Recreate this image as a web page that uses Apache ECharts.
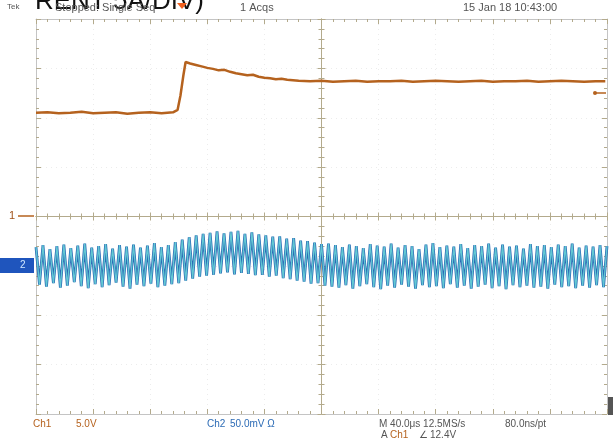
<!DOCTYPE html>
<html><head><meta charset="utf-8">
<script src="https://cdn.jsdelivr.net/npm/echarts@6/dist/echarts.min.js"></script>
<style>html,body{margin:0;padding:0;background:#fff}#c{width:613px;height:441px}</style>
</head><body><div id="c"></div>
<script>
// Ch1 (current probe) — time in divisions (-5..5), value in divisions
const ch1Time = [-5,-4.8,-4.6,-4.4,-4.2,-4.0,-3.8,-3.6,-3.4,-3.2,-3.0,-2.8,-2.6,-2.52,-2.47,-2.42,-2.38,-2.3,-2.2,-2.1,-2.0,-1.9,-1.8,-1.7,-1.6,-1.5,-1.4,-1.3,-1.2,-1.1,-1.0,-0.9,-0.8,-0.7,-0.6,-0.5,-0.4,-0.2,0,0.2,0.4,0.6,0.8,1.0,1.2,1.4,1.6,1.8,2.0,2.2,2.4,2.6,2.8,3.0,3.2,3.4,3.6,3.8,4.0,4.2,4.4,4.6,4.8,4.97];
const ch1Div  = [2.10,2.11,2.09,2.10,2.12,2.09,2.10,2.11,2.08,2.10,2.11,2.09,2.11,2.16,2.45,2.85,3.13,3.10,3.07,3.04,3.01,2.99,2.96,2.97,2.93,2.90,2.88,2.86,2.87,2.83,2.81,2.80,2.78,2.79,2.77,2.76,2.75,2.74,2.75,2.73,2.74,2.75,2.73,2.74,2.74,2.75,2.73,2.74,2.75,2.74,2.73,2.74,2.75,2.73,2.74,2.74,2.75,2.73,2.74,2.75,2.74,2.73,2.74,2.74];
// Ch2 (switching ripple) — evenly sampled, alternating peaks and troughs, in divisions
const ch2Div = [
-0.62,-1.38,-0.58,-1.42,-0.66,-1.35,-0.60,-1.44,-0.57,-1.40,-0.64,-1.33,-0.59,-1.41,-0.55,-1.45,-0.63,-1.37,-0.60,-1.43,
-0.56,-1.39,-0.65,-1.34,-0.58,-1.42,-0.61,-1.46,-0.57,-1.38,-0.63,-1.41,-0.59,-1.36,-0.54,-1.43,-0.62,-1.40,-0.58,-1.37,
-0.52,-1.35,-0.47,-1.30,-0.42,-1.26,-0.38,-1.22,-0.35,-1.20,
-0.33,-1.18,-0.30,-1.15,-0.34,-1.13,-0.31,-1.17,-0.29,-1.14,-0.35,-1.16,-0.32,-1.19,-0.36,-1.18,
-0.38,-1.22,-0.41,-1.20,-0.40,-1.25,-0.45,-1.27,-0.44,-1.30,-0.49,-1.32,-0.50,-1.36,-0.53,-1.35,-0.56,-1.40,-0.55,-1.42,
-0.58,-1.44,-0.62,-1.39,-0.57,-1.46,-0.60,-1.41,-0.64,-1.37,-0.56,-1.43,-0.59,-1.47,-0.61,-1.40,-0.55,-1.44,-0.63,-1.38,
-0.58,-1.42,-0.60,-1.46,-0.66,-1.39,-0.57,-1.43,-0.54,-1.41,-0.62,-1.45,-0.59,-1.37,-0.61,-1.44,-0.56,-1.40,-0.64,-1.46,
-0.58,-1.42,-0.60,-1.38,-0.55,-1.45,-0.63,-1.41,-0.57,-1.47,-0.61,-1.39,-0.59,-1.43,-0.65,-1.40,-0.56,-1.44,-0.60,-1.42,
-0.58,-1.46,-0.62,-1.38,-0.57,-1.43,-0.60,-1.41,-0.55,-1.45,-0.63,-1.40,-0.59,-1.44,-0.61,-1.39,-0.58,-1.43,-0.60];
const xRange = [-5, 5];   // horizontal divisions
const yRange = [-4, 4];   // vertical divisions
const topTexts = ['Tek', 'Stopped: Single Seq', '1 Acqs', '15 Jan 18 10:43:00'];
const bottomTexts = ['Ch1', '5.0V', 'Ch2', '50.0mV Ω', 'M 40.0μs 12.5MS/s', '80.0ns/pt', 'A', 'Ch1', '∠', '12.4V'];
const bigTitle = 'RENT 5A/DIV)';

const ch1Data = ch1Time.map((t, i) => [t, ch1Div[i]]);
const step = (xRange[1] - xRange[0]) / (ch2Div.length - 1);
const ch2Data = ch2Div.map((v, i) => [xRange[0] + i * step, v]);

const tan = '#b3aa8c', border = '#c4c4c4';
function xa(pos, opt) {
  return Object.assign({
    type: 'value', min: xRange[0], max: xRange[1], interval: 1, position: pos,
    axisLabel: { show: false }, splitLine: { show: false },
    axisLine: { onZero: false, lineStyle: { color: border } },
    axisTick: { show: true, inside: true, length: 5, lineStyle: { color: tan } },
    minorTick: { show: true, splitNumber: 5, length: 3, lineStyle: { color: tan } }
  }, opt);
}
function ya(pos, opt) {
  return Object.assign({
    type: 'value', min: yRange[0], max: yRange[1], interval: 1, position: pos,
    axisLabel: { show: false }, splitLine: { show: false },
    axisLine: { onZero: false, lineStyle: { color: border } },
    axisTick: { show: true, inside: true, length: 5, lineStyle: { color: tan } },
    minorTick: { show: true, splitNumber: 5, length: 3, lineStyle: { color: tan } }
  }, opt);
}
const dotted = { show: true, lineStyle: { color: '#ececec', type: [1, 4] } };
const chart = echarts.init(document.getElementById('c'), null, { renderer: 'canvas' });
const font = 'Liberation Sans, Arial, sans-serif';
function txt(x, y, s, color, size) {
  return { type: 'text', left: x, top: y, style: { text: s, fill: color, font: (size || 10) + 'px ' + font } };
}
chart.setOption({
  animation: false,
  backgroundColor: '#fff',
  grid: { left: 36, right: 6, top: 19, bottom: 27 },
  xAxis: [
    xa('bottom', { splitLine: dotted }),
    xa('top', {}),
    xa('bottom', { axisLine: { onZero: true, onZeroAxisIndex: 0, lineStyle: { color: tan } }, axisTick: { inside: false, length: 4, lineStyle: { color: tan } } }),
    xa('bottom', { axisLine: { onZero: true, onZeroAxisIndex: 0, lineStyle: { color: tan } }, axisTick: { inside: true, length: 4, lineStyle: { color: tan } } })
  ],
  yAxis: [
    ya('left', { splitLine: dotted }),
    ya('right', {}),
    ya('left', { axisLine: { onZero: true, onZeroAxisIndex: 0, lineStyle: { color: tan } }, axisTick: { inside: false, length: 4, lineStyle: { color: tan } } }),
    ya('left', { axisLine: { onZero: true, onZeroAxisIndex: 0, lineStyle: { color: tan } }, axisTick: { inside: true, length: 4, lineStyle: { color: tan } } })
  ],
  series: [
    { type: 'line', name: 'Ch2 under', data: ch2Data, showSymbol: false, xAxisIndex: 0, yAxisIndex: 0,
      lineStyle: { color: '#2c6bb5', width: 2.8 }, z: 3 },
    { type: 'line', name: 'Ch2', data: ch2Data, showSymbol: false, xAxisIndex: 0, yAxisIndex: 0,
      lineStyle: { color: '#62c8d4', width: 1.3 }, z: 4 },
    { type: 'line', name: 'Ch1', data: ch1Data, showSymbol: false, xAxisIndex: 0, yAxisIndex: 0,
      lineStyle: { color: '#b5621e', width: 2.5 }, z: 5 }
  ],
  graphic: [
    { type: 'text', left: 35, top: -11, style: { text: bigTitle, fill: '#111', font: '26px ' + font } },
    txt(7, 3, topTexts[0], '#555', 8),
    txt(55, 2, topTexts[1], '#555', 11),
    txt(240, 2, topTexts[2], '#555', 11),
    txt(463, 2, topTexts[3], '#555', 11),
    { type: 'polygon', shape: { points: [[177, 3], [187, 3], [182, 9]] }, style: { fill: '#f0601e' } },
    // Ch1 ground marker
    txt(9, 210, '1', '#a0521a', 11),
    { type: 'line', shape: { x1: 18, y1: 216, x2: 34, y2: 216 }, style: { stroke: '#b5621e', lineWidth: 1.5 } },
    // Ch2 ground marker
    { type: 'rect', shape: { x: 0, y: 258, width: 34, height: 15 }, style: { fill: '#1f55bd' } },
    txt(20, 260, '2', '#cfe6ff', 10),
    // trigger level marker (right)
    { type: 'circle', shape: { cx: 595, cy: 93, r: 2 }, style: { fill: '#b5621e' } },
    { type: 'line', shape: { x1: 595, y1: 93, x2: 606, y2: 93 }, style: { stroke: '#b5621e', lineWidth: 1.5 } },
    { type: 'rect', shape: { x: 608, y: 397, width: 5, height: 18 }, style: { fill: '#555' } },
    // bottom readouts
    txt(33, 419, bottomTexts[0], '#b5621e', 10),
    txt(76, 419, bottomTexts[1], '#b5621e', 10),
    txt(207, 419, bottomTexts[2], '#2c6bb5', 10),
    txt(230, 419, bottomTexts[3], '#2c6bb5', 10),
    txt(379, 419, bottomTexts[4], '#555', 10),
    txt(505, 419, bottomTexts[5], '#555', 10),
    txt(381, 430, bottomTexts[6], '#555', 10),
    txt(390, 430, bottomTexts[7], '#b5621e', 10),
    txt(419, 430, bottomTexts[8], '#555', 10),
    txt(430, 430, bottomTexts[9], '#555', 10)
  ]
});
</script></body></html>
